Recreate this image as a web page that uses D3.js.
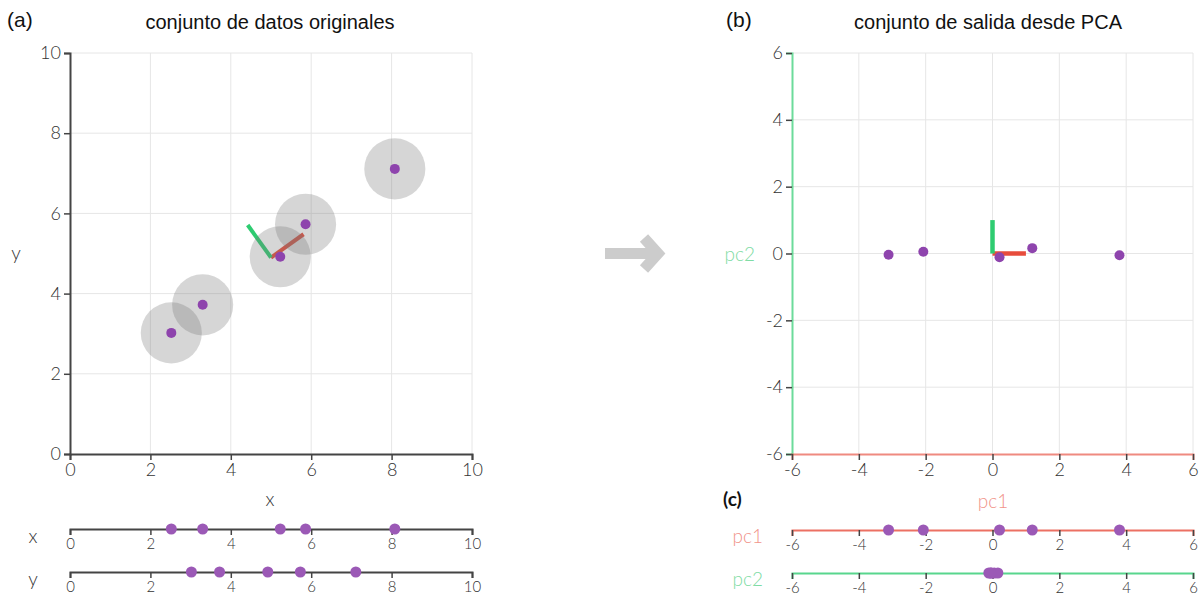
<!DOCTYPE html>
<html>
<head>
<meta charset="utf-8">
<script src="https://cdn.jsdelivr.net/npm/d3@7"></script>
<style>
  body { margin: 0; background: #fff; }
  svg text { font-family: Lato, "Open Sans", sans-serif; font-weight: 300; fill: #333; }
  .title { font-family: "Liberation Sans", Arial, sans-serif; font-weight: 400; font-size: 20px; fill: #111; }
  .grid line { stroke: #e6e6e6; stroke-width: 1; }
</style>
</head>
<body>
<svg id="chart" width="1204" height="602"></svg>
<script>
// original data
const xVals = [2.52, 3.30, 5.23, 5.86, 8.08];
const yVals = [3.02, 3.72, 4.92, 5.73, 7.11];
// projected data
const pc1Vals = [-3.11, -2.07, 0.21, 1.19, 3.80];
const pc2Vals = [-0.04, 0.05, -0.11, 0.16, -0.05];
// mean and principal directions in original space
const meanXY = [5.0, 4.9];
const pc1Dir = [0.81, 0.58];
const pc2Dir = [-0.58, 0.81];
const blurRadius = 0.76;

const ticksA = [0, 2, 4, 6, 8, 10];
const ticksB = [-6, -4, -2, 0, 2, 4, 6];

const RED = '#e74c3c';
const GREEN = '#2ecc71';
const PURPLE = '#8e44ad';
const PURPLE_LIGHT = '#9b59b6';
const AXIS = '#444';

const svg = d3.select('#chart');
const fmt = d => String(d);

function styleAxis(g, domainColor, fontSize) {
    g.attr('font-family', null).attr('font-size', null);
    g.select('.domain').attr('stroke', domainColor).attr('stroke-width', 2);
    g.selectAll('.tick line').attr('stroke', AXIS).attr('stroke-width', 1.5);
    g.selectAll('.tick text').attr('fill', '#333')
        .style('font-size', fontSize + 'px');
}

// ---------- panel (a) ----------
const xA = d3.scaleLinear().domain([0, 10]).range([70, 472]);
const yA = d3.scaleLinear().domain([0, 10]).range([454, 53]);

const gA = svg.append('g');

gA.append('g').attr('class', 'grid')
    .selectAll('line').data(ticksA.slice(1)).join('line')
    .attr('x1', d => xA(d)).attr('x2', d => xA(d))
    .attr('y1', yA(0)).attr('y2', yA(10));
gA.append('g').attr('class', 'grid')
    .selectAll('line').data(ticksA.slice(1)).join('line')
    .attr('y1', d => yA(d)).attr('y2', d => yA(d))
    .attr('x1', xA(0)).attr('x2', xA(10));

gA.append('g').attr('transform', `translate(0,${yA(0)})`)
    .call(d3.axisBottom(xA).tickValues(ticksA).tickFormat(fmt).tickSizeOuter(6))
    .call(g => styleAxis(g, AXIS, 18));
gA.append('g').attr('transform', `translate(${xA(0)},0)`)
    .call(d3.axisLeft(yA).tickValues(ticksA).tickFormat(fmt).tickSizeOuter(6))
    .call(g => styleAxis(g, AXIS, 18));

// principal vectors (under the blur circles)
const vecA = [
    { dir: pc1Dir, color: RED },
    { dir: pc2Dir, color: GREEN }
];
gA.selectAll('line.vec').data(vecA).join('line')
    .attr('class', 'vec')
    .attr('x1', xA(meanXY[0])).attr('y1', yA(meanXY[1]))
    .attr('x2', d => xA(meanXY[0] + d.dir[0]))
    .attr('y2', d => yA(meanXY[1] + d.dir[1]))
    .attr('stroke', d => d.color).attr('stroke-width', 4);

const ptsA = xVals.map((x, i) => ({ x, y: yVals[i] }));
gA.selectAll('circle.blur').data(ptsA).join('circle')
    .attr('class', 'blur')
    .attr('cx', d => xA(d.x)).attr('cy', d => yA(d.y))
    .attr('r', xA(blurRadius) - xA(0))
    .attr('fill', 'rgba(120,120,120,0.3)');
gA.selectAll('circle.pt').data(ptsA).join('circle')
    .attr('class', 'pt')
    .attr('cx', d => xA(d.x)).attr('cy', d => yA(d.y))
    .attr('r', 5).attr('fill', PURPLE);

svg.append('text').attr('class', 'title').attr('x', 7).attr('y', 27).style('font-size', '21px').text('(a)');
svg.append('text').attr('class', 'title').attr('x', 270).attr('y', 29)
    .attr('text-anchor', 'middle').text('conjunto de datos originales');
svg.append('text').attr('x', 270).attr('y', 506).attr('text-anchor', 'middle')
    .style('font-size', '19px').text('x');
svg.append('text').attr('x', 16).attr('y', 260).attr('text-anchor', 'middle')
    .style('font-size', '19px').text('y');

// strips under (a)
const stripsA = [
    { name: 'x', vals: xVals, y: 529 },
    { name: 'y', vals: yVals, y: 572 }
];
stripsA.forEach(s => {
    const g = svg.append('g');
    g.append('g').attr('transform', `translate(0,${s.y})`)
        .call(d3.axisBottom(xA).tickValues(ticksA).tickFormat(fmt).tickSizeOuter(6))
        .call(a => styleAxis(a, AXIS, 15));
    g.selectAll('circle').data(s.vals).join('circle')
        .attr('cx', d => xA(d)).attr('cy', s.y).attr('r', 5.5).attr('fill', PURPLE_LIGHT);
    g.append('text').attr('x', 33).attr('y', s.y + 14).attr('text-anchor', 'middle')
        .style('font-size', '19px').attr('fill', '#444').text(s.name);
});

// ---------- arrow ----------
svg.append('path')
    .attr('d', 'M605,253.5 L654,253.5 M644,238 L658,253.5 L644,269')
    .attr('fill', 'none').attr('stroke', '#cccccc').attr('stroke-width', 11)
    .attr('stroke-linejoin', 'miter');

// ---------- panel (b) ----------
const xB = d3.scaleLinear().domain([-6, 6]).range([792, 1193]);
const yB = d3.scaleLinear().domain([-6, 6]).range([454, 53]);
const gB = svg.append('g');

gB.append('g').attr('class', 'grid')
    .selectAll('line').data(ticksB.slice(1)).join('line')
    .attr('x1', d => xB(d)).attr('x2', d => xB(d))
    .attr('y1', yB(-6)).attr('y2', yB(6));
gB.append('g').attr('class', 'grid')
    .selectAll('line').data(ticksB.slice(1)).join('line')
    .attr('y1', d => yB(d)).attr('y2', d => yB(d))
    .attr('x1', xB(-6)).attr('x2', xB(6));

gB.append('g').attr('transform', `translate(${xB(-6)},0)`)
    .call(d3.axisLeft(yB).tickValues(ticksB).tickFormat(fmt).tickSizeOuter(6))
    .call(g => styleAxis(g, 'rgba(46,204,113,0.7)', 18));
gB.append('g').attr('transform', `translate(0,${yB(-6)})`)
    .call(d3.axisBottom(xB).tickValues(ticksB).tickFormat(fmt).tickSizeOuter(6))
    .call(g => styleAxis(g, 'rgba(231,76,60,0.65)', 18));

const vecB = [
    { dir: [1, 0], color: RED },
    { dir: [0, 1], color: GREEN }
];
gB.selectAll('line.vec').data(vecB).join('line')
    .attr('class', 'vec')
    .attr('x1', xB(0)).attr('y1', yB(0))
    .attr('x2', d => xB(d.dir[0])).attr('y2', d => yB(d.dir[1]))
    .attr('stroke', d => d.color).attr('stroke-width', 4.5);

const ptsB = pc1Vals.map((x, i) => ({ x, y: pc2Vals[i] }));
gB.selectAll('circle.pt').data(ptsB).join('circle')
    .attr('class', 'pt')
    .attr('cx', d => xB(d.x)).attr('cy', d => yB(d.y))
    .attr('r', 5).attr('fill', PURPLE);

svg.append('text').attr('class', 'title').attr('x', 726).attr('y', 27).style('font-size', '21px').text('(b)');
svg.append('text').attr('class', 'title').attr('x', 988).attr('y', 29)
    .attr('text-anchor', 'middle').text('conjunto de salida desde PCA');
svg.append('text').attr('x', 755).attr('y', 261).attr('text-anchor', 'end')
    .style('font-size', '19px').style('fill', '#7fdca4').text('pc2');
svg.append('text').attr('x', 993).attr('y', 508).attr('text-anchor', 'middle')
    .style('font-size', '19px').style('fill', '#f1948a').text('pc1');

// ---------- panel (c) ----------
svg.append('text').attr('x', 723).attr('y', 506)
    .style('font-size', '19px').style('font-weight', 'bold').style('fill', '#111').text('(c)');

const stripsC = [
    { name: 'pc1', vals: pc1Vals, y: 530, color: '#ec7063', label: '#f1948a' },
    { name: 'pc2', vals: pc2Vals, y: 573, color: '#58d68d', label: '#7fdca4' }
];
stripsC.forEach(s => {
    const g = svg.append('g');
    g.append('g').attr('transform', `translate(0,${s.y})`)
        .call(d3.axisBottom(xB).tickValues(ticksB).tickFormat(fmt).tickSizeOuter(6))
        .call(a => styleAxis(a, s.color, 15));
    g.selectAll('circle').data(s.vals).join('circle')
        .attr('cx', d => xB(d)).attr('cy', s.y).attr('r', 5.5).attr('fill', PURPLE_LIGHT);
    g.append('text').attr('x', 763).attr('y', s.y + 13).attr('text-anchor', 'end')
        .style('font-size', '19px').style('fill', s.label).text(s.name);
});
</script>
</body>
</html>
